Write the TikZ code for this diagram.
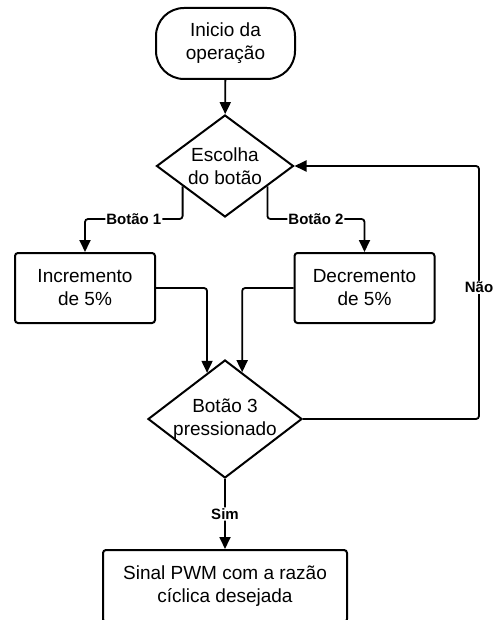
\documentclass[tikz,border=0pt]{standalone}
\usepackage{fontspec}
\setmainfont{Liberation Sans}
\usetikzlibrary{calc,shapes.geometric,arrows.meta}
\tikzset {>={Triangle[length=12pt,width=11pt]}}

\begin{document}
\begin{tikzpicture}[x=1pt,y=-1pt,
  txt/.style={align=center,font=\fontsize{19}{23}\selectfont},
  block/.style={txt,draw,line width=2pt,rounded corners=3pt,minimum width=140pt,minimum height=70pt},
  decision/.style={draw,diamond,line width=2pt,inner sep=0pt},
  lab/.style={fill=white,inner sep=1pt,font=\bfseries\fontsize{15}{18}\selectfont},
  line/.style={line width=1.8pt,rounded corners=3pt}]

% Frame of the picture, the last box runs past its bottom edge
\useasboundingbox (0,0) rectangle (492,620);
\clip (0,0) rectangle (492,620);

% Start and the first choice
\node[block,rounded corners=28pt,minimum width=139pt,minimum height=71pt] (start) at (225.5,43.5) {Inicio da\\operação};
\node[decision,minimum width=137pt,minimum height=102pt,
  label={[txt]center:Escolha\\do botão}] (esc) at (225,166) {};
\draw [line,->] (start) -- (esc);

% The two buttons
\node[block] (incr) at (85,288) {Incremento\\de 5\%};
\node[block] (decr) at (364.5,288) {Decremento\\de 5\%};
\coordinate (b1) at ($(esc.west)!.39!(esc.south)$);
\coordinate (b2) at ($(esc.east)!.39!(esc.south)$);
\draw [line,->] (b1) |- node[lab,pos=.75] {Botão 1}
   ($(incr.north)+(0,-33)$) -- (incr.north);
\draw [line,->] (b2) |- node[lab,pos=.75] {Botão 2}
   ($(decr.north)+(0,-33)$) -- (decr.north);

% Second choice
\node[decision,minimum width=154pt,minimum height=118pt,
  label={[txt]center:Botão 3\\pressionado}] (bt3) at (225,419) {};
\draw [line,->] (incr.east) -| ($(bt3.west)!.77!(bt3.north)$);
\draw [line,->] (decr.west) -| ($(bt3.north)!.22!(bt3.east)$);

% Back to the first choice
\coordinate (loop) at ($(bt3.east)+(176,0)$);
\draw [line,->] (bt3.east) -- (loop) |- node[lab,pos=.26] {Não} (esc.east);

% Result
\node[block,minimum width=244pt,minimum height=72pt] (pwm) at (225,586) {Sinal PWM com a razão\\cíclica desejada};
\draw [line,->] (bt3) -- node[lab] {Sim} (pwm);
\end{tikzpicture}
\end{document}
